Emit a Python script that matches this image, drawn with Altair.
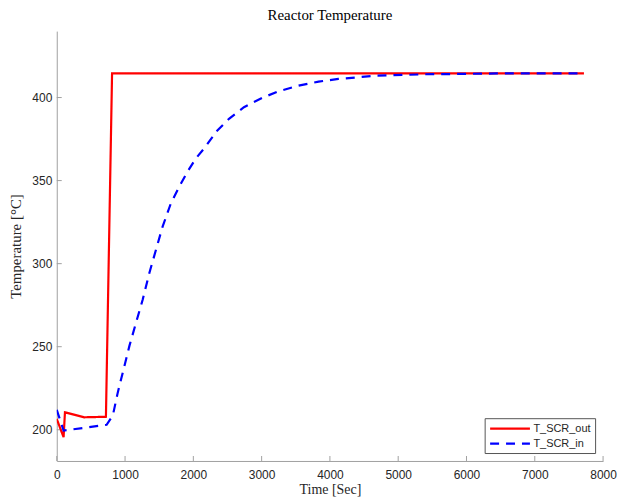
import altair as alt
import pandas as pd

# T_SCR_out (red, solid)
time_out = [0, 100, 120, 400, 720, 810, 7720]
temp_out = [206.5, 195.5, 210.5, 207.5, 207.8, 414.6, 414.6]

# T_SCR_in (blue, dashed)
time_in = [0, 100, 730, 821, 894, 967, 1064, 1161, 1259, 1356, 1453, 1550, 1671,
           1793, 1914, 2036, 2157, 2352, 2522, 2741, 3008, 3251, 3542, 3834, 4125,
           4417, 4660, 4898, 5389, 5875, 6450, 7720]
temp_in = [212, 199.5, 203, 208.6, 222.5, 234.5, 250.5, 264.5, 278.4, 294.4, 308.4,
           322.3, 336.3, 346.3, 355.3, 363.3, 369.3, 380.2, 387.2, 394.2, 399.8, 403.8,
           407.2, 409.6, 411.2, 412.2, 413.2, 413.4, 414.0, 414.2, 414.5, 414.6]

series_names = ["T_SCR_out", "T_SCR_in"]
x_ticks = [0, 1000, 2000, 3000, 4000, 5000, 6000, 7000, 8000]
y_ticks = [200, 250, 300, 350, 400]

rows = []
for t, v in zip(time_out, temp_out):
    rows.append({"t": t, "v": v, "s": series_names[0], "o": 0})
for t, v in zip(time_in, temp_in):
    rows.append({"t": t, "v": v, "s": series_names[1], "o": 1})
df = pd.DataFrame(rows)

W, H = 549, 432
xs = alt.Scale(domain=[0, 8000], nice=False, zero=False)
ys = alt.Scale(domain=[181.2, 440], nice=False, zero=False)
gray = "#a0a0a0"
label_color = "#262626"

legend_cfg = dict(title=None, orient="none", legendX=430, legendY=389,
                  symbolType="M-1,0H7", symbolSize=100, symbolStrokeWidth=2.2,
                  labelFont="Liberation Sans", labelFontSize=11,
                  labelColor=label_color, fillColor="white",
                  strokeColor="#555555", padding=4, rowPadding=3,
                  labelOffset=32)

lines = alt.Chart(df).mark_line(strokeWidth=2.2, clip=True).encode(
    x=alt.X("t:Q", scale=xs,
            axis=alt.Axis(values=x_ticks, ticks=False, grid=False, domainColor=gray,
                          format="d",
                          labelColor=label_color, labelFont="Liberation Sans", labelFontSize=12,
                          labelPadding=9, title="Time [Sec]", titleFont="Liberation Serif",
                          titleFontSize=14, titleFontWeight="normal", titleColor=label_color,
                          titlePadding=2, labelFlush=False)),
    y=alt.Y("v:Q", scale=ys,
            axis=alt.Axis(values=y_ticks, ticks=False, grid=False, domainColor=gray,
                          labelColor=label_color, labelFont="Liberation Sans", labelFontSize=12,
                          labelPadding=5, title="Temperature [°C]", titleFont="Liberation Serif",
                          titleFontSize=15, titleFontWeight="normal", titleColor=label_color,
                          titlePadding=8)),
    color=alt.Color("s:N", scale=alt.Scale(domain=series_names, range=["#ff0000", "#0000ff"]),
                    legend=alt.Legend(**legend_cfg)),
    strokeDash=alt.StrokeDash("s:N", scale=alt.Scale(domain=series_names, range=[[1, 0], [9, 7]]),
                              legend=alt.Legend(**legend_cfg)),
    detail="s:N",
    order="o:Q",
)

xt = alt.Chart(pd.DataFrame({"t": x_ticks})).mark_rule(color=gray, strokeWidth=1).encode(
    x=alt.X("t:Q", scale=xs), y=alt.value(H), y2=alt.value(H - 5))
yt = alt.Chart(pd.DataFrame({"v": y_ticks})).mark_rule(color=gray, strokeWidth=1).encode(
    y=alt.Y("v:Q", scale=ys), x=alt.value(0), x2=alt.value(5))

chart = alt.layer(xt, yt, lines).properties(
    width=W, height=H,
    background="white",
    title=alt.Title("Reactor Temperature", font="Liberation Serif", fontSize=15,
                    fontWeight="normal", color="#000000", offset=8, anchor="middle"),
    padding={"left": 49, "top": 22, "right": 14, "bottom": 38},
    autosize="none",
).configure_view(strokeWidth=0, stroke="transparent")

chart.save("out.html", embed_options={"renderer": "svg", "actions": False})
